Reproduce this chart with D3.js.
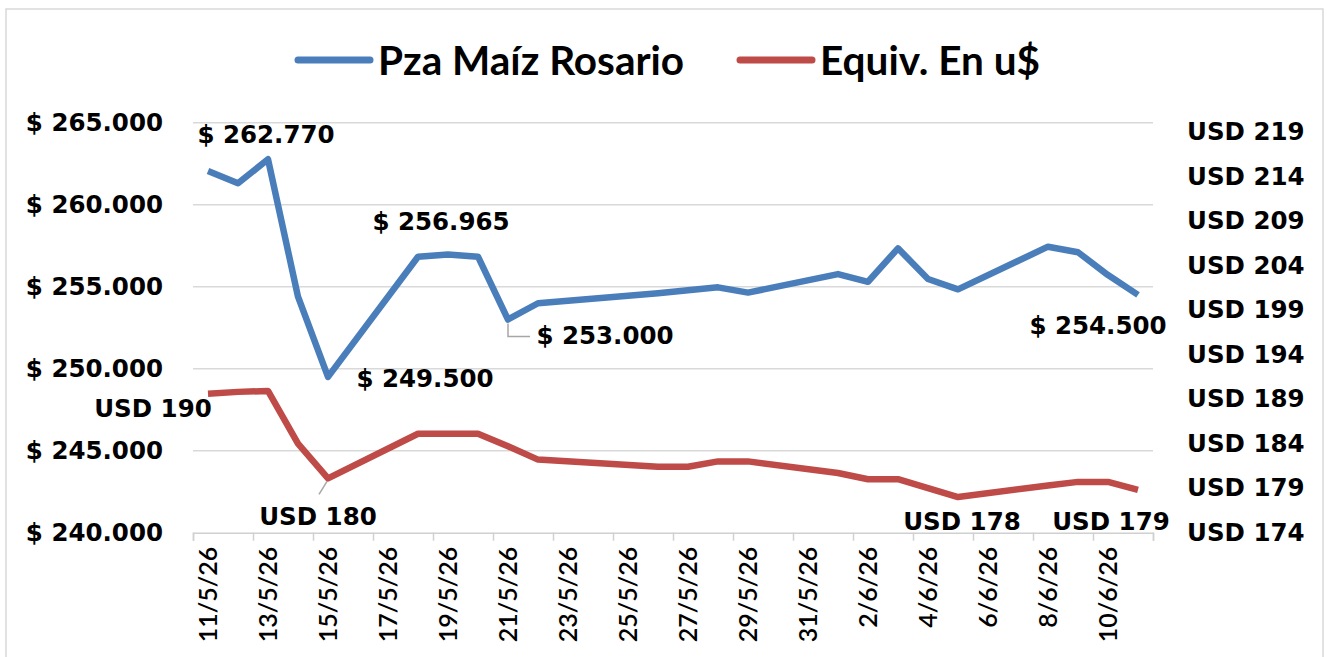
<!DOCTYPE html>
<html>
<head>
  <meta charset="utf-8">
  <title>Pza Maíz Rosario</title>
  <style>
  * { margin: 0; padding: 0; }
  body { background: #fff; }
  </style>
</head>
<body>
  <script src="https://cdn.jsdelivr.net/npm/d3@7"></script>
  <script>
  // Datos (días hábiles)
  var dates = ["2026-05-11", "2026-05-12", "2026-05-13", "2026-05-14", "2026-05-15",
    "2026-05-18", "2026-05-19", "2026-05-20", "2026-05-21", "2026-05-22",
    "2026-05-26", "2026-05-27", "2026-05-28", "2026-05-29",
    "2026-06-01", "2026-06-02", "2026-06-03", "2026-06-04", "2026-06-05",
    "2026-06-08", "2026-06-09", "2026-06-10", "2026-06-11"];
  var pesos = [262055, 261305, 262770, 254390, 249500,
    256830, 256965, 256830, 253000, 253990,
    254600, 254780, 254960, 254640,
    255770, 255300, 257340, 255470, 254840,
    257440, 257100, 255710, 254500];
  var usd = [189.6, 189.8, 189.9, 184.0, 180.1,
    185.1, 185.1, 185.1, 183.7, 182.2,
    181.4, 181.4, 182.0, 182.0,
    180.7, 180.0, 180.0, 179.0, 178.0,
    179.3, 179.7, 179.7, 178.8];
  var leftTicks = [240000, 245000, 250000, 255000, 260000, 265000];
  var rightTicks = [174, 179, 184, 189, 194, 199, 204, 209, 214, 219];
  var seriesNames = ["Pza Maíz Rosario", "Equiv. En u$"];
  // índices con etiqueta de datos
  var pesoLabels = [2, 6, 4, 8, 22];
  var usdLabels = [0, 4, 18, 22];

  var w = 1327, h = 657;
  var plotL = 193, plotR = 1153, plotT = 122.7, plotB = 532.7;
  var blue = "#4a7ebb", red = "#be4b48";
  var numFont = 24.5;

  var parse = d3.utcParse("%Y-%m-%d");
  var dayStart = parse(dates[0]);
  var dayEnd = d3.utcDay.offset(parse(dates[dates.length - 1]), 1);

  var loc = d3.formatLocale({ decimal: ",", thousands: ".", grouping: [3], currency: ["$ ", ""] });
  var fmtPeso = function(d) { return "$ " + loc.format(",.0f")(d); };
  var fmtUsd = function(d) { return "USD " + d3.format(".0f")(d); };
  var fmtDate = d3.utcFormat("%-d/%-m/%y");

  var x = d3.scaleUtc().domain([dayStart, dayEnd]).range([plotL, plotR]);
  var yL = d3.scaleLinear().domain([240000, 265000]).range([plotB, plotT]);
  var yR = d3.scaleLinear().domain([174, 220]).range([plotB, plotT]);
  var xc = function(s) { return x(d3.utcHour.offset(parse(s), 12)); };

  var svg = d3.select("body").append("svg")
    .attr("width", w)
    .attr("height", h);

  svg.append("rect")
    .attr("x", 6).attr("y", 9)
    .attr("width", 1317).attr("height", 660)
    .attr("fill", "#fff")
    .attr("stroke", "#d9d9d9")
    .attr("stroke-width", 1.5);

  // grilla
  svg.append("g").selectAll("line")
    .data(leftTicks.slice(1))
    .enter().append("line")
    .attr("x1", plotL).attr("x2", plotR)
    .attr("y1", function(d) { return yL(d); })
    .attr("y2", function(d) { return yL(d); })
    .attr("stroke", "#d9d9d9")
    .attr("stroke-width", 1.5);

  // eje izquierdo
  var yAxisL = d3.axisLeft(yL).tickValues(leftTicks).tickSize(0).tickPadding(30).tickFormat(fmtPeso);
  svg.append("g")
    .attr("transform", "translate(" + plotL + ",0)")
    .call(yAxisL)
    .call(function(g) { g.select(".domain").remove(); })
    .selectAll("text")
    .attr("font-family", "DejaVu Sans")
    .attr("font-weight", "bold")
    .attr("font-size", numFont)
    .attr("fill", "#000");

  // eje derecho
  var yAxisR = d3.axisRight(yR).tickValues(rightTicks).tickSize(0).tickPadding(34).tickFormat(fmtUsd);
  svg.append("g")
    .attr("transform", "translate(" + plotR + ",0)")
    .call(yAxisR)
    .call(function(g) { g.select(".domain").remove(); })
    .selectAll("text")
    .attr("font-family", "DejaVu Sans")
    .attr("font-weight", "bold")
    .attr("font-size", numFont)
    .attr("fill", "#000");

  // eje x
  var tickDates = d3.utcDay.range(dayStart, d3.utcDay.offset(dayEnd, 1), 2);
  var xAxis = d3.axisBottom(x).tickValues(tickDates).tickSize(8).tickFormat("");
  svg.append("g")
    .attr("transform", "translate(0," + plotB + ")")
    .call(xAxis)
    .call(function(g) {
      g.select(".domain").attr("stroke", "#d0d0d0").attr("stroke-width", 1.5);
      g.selectAll(".tick line").attr("stroke", "#d0d0d0").attr("stroke-width", 1.5);
    });

  var labelDates = tickDates.filter(function(d) { return d < dayEnd; });
  svg.append("g").selectAll("text")
    .data(labelDates)
    .enter().append("text")
    .attr("transform", function(d) {
      return "translate(" + x(d3.utcHour.offset(d, 12)) + "," + (plotB + 14) + ") rotate(-90)";
    })
    .attr("text-anchor", "end")
    .attr("dy", "0.36em")
    .attr("font-family", "Lato")
    .attr("font-weight", 600)
    .attr("font-size", 25)
    .attr("fill", "#000")
    .text(function(d) { return fmtDate(d); });

  // líneas
  var linePeso = d3.line()
    .x(function(d, i) { return xc(dates[i]); })
    .y(function(d) { return yL(d); });
  var lineUsd = d3.line()
    .x(function(d, i) { return xc(dates[i]); })
    .y(function(d) { return yR(d); });

  svg.append("path")
    .datum(usd)
    .attr("d", lineUsd)
    .attr("fill", "none")
    .attr("stroke", red)
    .attr("stroke-width", 6.5)
    .attr("stroke-linejoin", "round");

  svg.append("path")
    .datum(pesos)
    .attr("d", linePeso)
    .attr("fill", "none")
    .attr("stroke", blue)
    .attr("stroke-width", 6.5)
    .attr("stroke-linejoin", "round");

  // líneas guía de etiquetas
  var px8 = xc(dates[8]), py8 = yL(pesos[8]);
  svg.append("path")
    .attr("d", "M" + px8 + "," + (py8 + 4) + "V" + (py8 + 17) + "H" + (px8 + 22))
    .attr("fill", "none")
    .attr("stroke", "#a6a6a6")
    .attr("stroke-width", 1.5);
  var ux4 = xc(dates[4]), uy4 = yR(usd[4]);
  svg.append("line")
    .attr("x1", ux4 - 1).attr("y1", uy4 + 3)
    .attr("x2", ux4 - 9).attr("y2", uy4 + 16)
    .attr("stroke", "#a6a6a6")
    .attr("stroke-width", 1.5);

  // etiquetas de datos
  var pesoOffsets = { 2: [-2, -25], 6: [-7, -33], 4: [97, 1], 8: [97, 16], 22: [-40, 30] };
  var usdOffsets = { 0: [-55, 15], 4: [-10, 38], 18: [4, 24], 22: [-27, 31] };

  svg.append("g").selectAll("text")
    .data(pesoLabels)
    .enter().append("text")
    .attr("x", function(i) { return xc(dates[i]) + pesoOffsets[i][0]; })
    .attr("y", function(i) { return yL(pesos[i]) + pesoOffsets[i][1]; })
    .attr("dy", "0.36em")
    .attr("text-anchor", "middle")
    .attr("font-family", "DejaVu Sans")
    .attr("font-weight", "bold")
    .attr("font-size", numFont)
    .attr("fill", "#000")
    .text(function(i) { return fmtPeso(pesos[i]); });

  svg.append("g").selectAll("text")
    .data(usdLabels)
    .enter().append("text")
    .attr("x", function(i) { return xc(dates[i]) + usdOffsets[i][0]; })
    .attr("y", function(i) { return yR(usd[i]) + usdOffsets[i][1]; })
    .attr("dy", "0.36em")
    .attr("text-anchor", "middle")
    .attr("font-family", "DejaVu Sans")
    .attr("font-weight", "bold")
    .attr("font-size", numFont)
    .attr("fill", "#000")
    .text(function(i) { return fmtUsd(usd[i]); });

  // leyenda
  var legendX = [298, 740];
  var legend = svg.append("g").selectAll("g")
    .data(seriesNames)
    .enter().append("g")
    .attr("transform", function(d, i) { return "translate(" + legendX[i] + ",60)"; });
  legend.append("line")
    .attr("x1", 0).attr("x2", 72)
    .attr("stroke", function(d, i) { return i === 0 ? blue : red; })
    .attr("stroke-width", 7)
    .attr("stroke-linecap", "round");
  legend.append("text")
    .attr("x", 80)
    .attr("dy", "0.36em")
    .attr("font-family", "Lato")
    .attr("font-weight", "bold")
    .attr("font-size", 40.5)
    .attr("fill", "#000")
    .text(function(d) { return d; });
  </script>
</body>
</html>
